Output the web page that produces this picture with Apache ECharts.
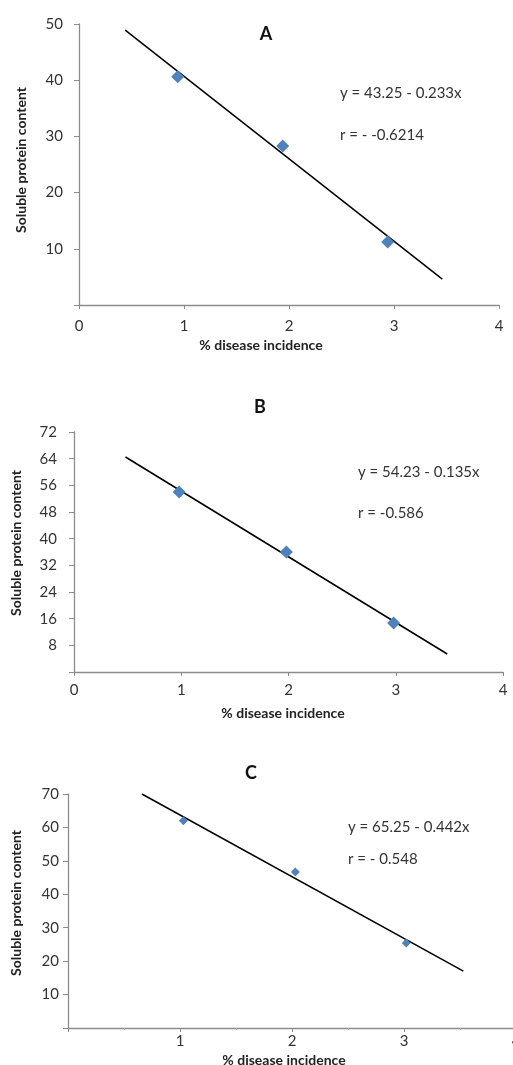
<!DOCTYPE html>
<html>
<head>
<meta charset="utf-8">
<script src="https://cdn.jsdelivr.net/npm/echarts@6/dist/echarts.min.js"></script>
<style>
html,body{margin:0;padding:0;background:#fff;}
#chart{width:513px;height:1065px;}
</style>
</head>
<body>
<div id="chart"></div>
<script>
// Panel A
var pointsA = [[0.94, 40.6], [1.94, 28.3], [2.94, 11.2]];
var trendA = [[0.44, 48.9], [3.46, 4.6]];
// Panel B
var pointsB = [[0.98, 54.0], [1.98, 36.0], [2.98, 14.7]];
var trendB = [[0.48, 64.5], [3.48, 5.4]];
// Panel C
var pointsC = [[1.03, 62.0], [2.03, 46.7], [3.02, 25.4]];
var trendC = [[0.66, 70.0], [3.53, 17.0]];

var panelTitles = ['A', 'B', 'C'];
var equations = ['y = 43.25 - 0.233x', 'y = 54.23 - 0.135x', 'y = 65.25 - 0.442x'];
var rValues = ['r = - -0.6214', 'r = -0.586', 'r = - 0.548'];
var yName = 'Soluble protein content';
var xName = '% disease incidence';

var FONT = 'Lato';
var axisColor = '#8c8c8c';
var textColor = '#333333';
var markerColor = '#4F81BD';

function xAx(grid, margin, hideZero, minor) {
  return {
    type: 'value', gridIndex: grid, min: 0, max: 4, interval: 1,
    axisLine: {show: true, lineStyle: {color: axisColor, width: 1.3}},
    axisTick: {show: true, length: 4, lineStyle: {color: axisColor}},
    minorTick: {show: !!minor, splitNumber: 2, length: 2, lineStyle: {color: '#aaa'}},
    splitLine: {show: false},
    axisLabel: {margin: margin, fontFamily: FONT, fontSize: 15, color: textColor,
      formatter: function (v) { return (hideZero && v === 0) ? '' : String(v); }}
  };
}
function yAx(grid, max, interval, margin) {
  return {
    type: 'value', gridIndex: grid, min: 0, max: max, interval: interval,
    axisLine: {show: true, lineStyle: {color: axisColor, width: 1.3}},
    axisTick: {show: true, length: 5, lineStyle: {color: axisColor}},
    splitLine: {show: false},
    axisLabel: {margin: margin, fontFamily: FONT, fontSize: 15, color: textColor,
      formatter: function (v) { return v === 0 ? '' : String(v); }}
  };
}
function scatter(i, data, size) {
  return {type: 'scatter', xAxisIndex: i, yAxisIndex: i, data: data, symbol: 'diamond',
    symbolSize: size, itemStyle: {color: markerColor, opacity: 1}, z: 3};
}
function trend(i, data) {
  return {type: 'line', xAxisIndex: i, yAxisIndex: i, data: data, showSymbol: false,
    symbol: 'none', lineStyle: {color: '#000', width: 1.5}, z: 2};
}
function txt(x, y, s, opts) {
  var st = Object.assign({text: s, fontFamily: FONT, fontSize: 15, fill: textColor,
    textAlign: 'left', textVerticalAlign: 'middle'}, opts || {});
  return {type: 'text', x: x, y: y, style: st, z: 10};
}
function vtxt(x, y, s) {
  return {type: 'text', x: x, y: y, rotation: Math.PI / 2,
    style: {text: s, fontFamily: FONT, fontSize: 14, fontWeight: 'bold', fill: '#222',
      textAlign: 'center', textVerticalAlign: 'middle'}, z: 10};
}
var boldT = {fontWeight: 'bold', fill: '#111', textAlign: 'center', fontSize: 18};
var boldX = {fontWeight: 'bold', fill: '#222', textAlign: 'center', fontSize: 14};

var chart = echarts.init(document.getElementById('chart'), null, {renderer: 'canvas'});
chart.setOption({
  animation: false,
  backgroundColor: '#fff',
  grid: [
    {left: 79, top: 24, width: 420, height: 281, containLabel: false, outerBoundsMode: 'none'},
    {left: 74, top: 432, width: 429, height: 240, containLabel: false, outerBoundsMode: 'none'},
    {left: 68, top: 794, width: 448, height: 234, containLabel: false, outerBoundsMode: 'none'}
  ],
  xAxis: [xAx(0, 14, false, false), xAx(1, 11, false, false), xAx(2, 6, true, true)],
  yAxis: [yAx(0, 50, 10, 16), yAx(1, 72, 8, 17), yAx(2, 70, 10, 9)],
  series: [
    trend(0, trendA), scatter(0, pointsA, 13),
    trend(1, trendB), scatter(1, pointsB, 13),
    trend(2, trendC), scatter(2, pointsC, 9)
  ],
  graphic: [
    txt(266, 34, panelTitles[0], boldT),
    txt(260, 407, panelTitles[1], boldT),
    txt(251, 773, panelTitles[2], boldT),
    txt(340, 93, equations[0]), txt(340, 135, rValues[0]),
    txt(358, 472, equations[1]), txt(358, 513, rValues[1]),
    txt(348, 827, equations[2]), txt(348, 859, rValues[2]),
    vtxt(21, 160, yName), vtxt(16, 543, yName), vtxt(16, 903, yName),
    txt(261, 345, xName, boldX), txt(283, 713, xName, boldX), txt(284, 1060, xName, boldX)
  ]
});
</script>
</body>
</html>
